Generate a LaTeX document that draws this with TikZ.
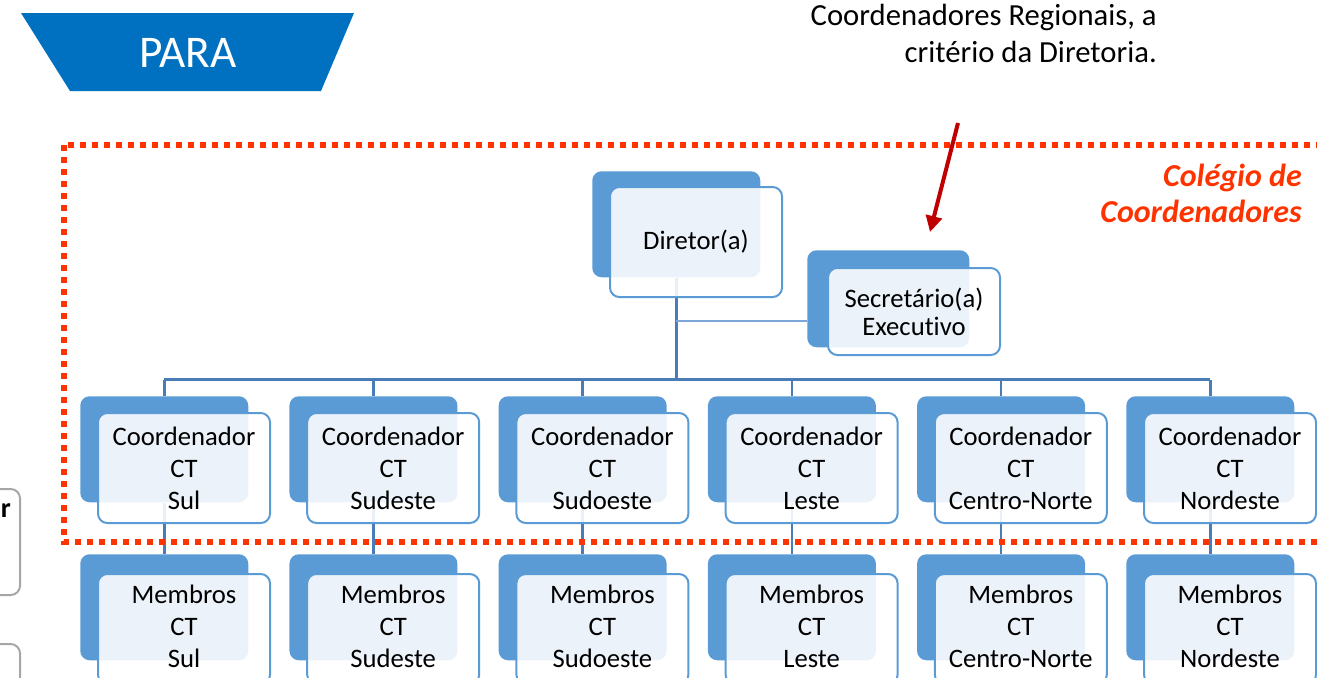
\documentclass[tikz,border=0pt]{standalone}
\usepackage{fontspec}
\setmainfont{Carlito}[Ligatures=NoCommon]
\usetikzlibrary{arrows.meta,calc}
\definecolor{backblue}{HTML}{5B9BD5}
\definecolor{linkblue}{HTML}{4A7DB8}
\definecolor{seclink}{HTML}{7FA6DA}
\definecolor{parablue}{HTML}{0070C0}
\definecolor{dotred}{HTML}{FF3300}
\definecolor{arrowred}{HTML}{C00000}
\definecolor{edgegray}{HTML}{A6A6A6}
\pgfdeclarelayer{bg}
\pgfsetlayers{bg,main}
\begin{document}
\begin{tikzpicture}[x=0.75pt,y=-0.75pt,
  backbox/.style={draw=none, fill=backblue, rounded corners=7pt, anchor=north west, inner sep=0pt, minimum width=126pt, minimum height=79.5pt},
  frontbox/.style={draw=backblue, line width=1.5pt, fill=white, fill opacity=0.88, text opacity=1, rounded corners=7pt, anchor=north west, inner sep=0pt, minimum width=129pt, minimum height=82.5pt, font=\fontsize{20}{24}\selectfont, align=center, text=black},
  link/.style={draw=linkblue, line width=2pt},
  seclinkline/.style={draw=seclink, line width=1.2pt},
  notetext/.style={anchor=base east, inner sep=0pt, font=\fontsize{23}{27}\selectfont, text=black},
  coltext/.style={anchor=base east, inner sep=0pt, font=\bfseries\itshape\fontsize{24}{28}\selectfont, text=dotred},
  dottedframe/.style={draw=dotred, line width=4.5pt, dash pattern=on 4.5pt off 4.5pt},
  edgebox/.style={draw=edgegray, line width=1.5pt, rounded corners=7pt}
]
\clip (0,0) rectangle (1317,678);

% PARA banner
\fill[parablue] (21,13) -- (354,13) -- (321,91) -- (70,91) -- cycle;
\node[text=white, font=\fontsize{34}{40}\selectfont, inner sep=0pt] (para) at (188,52.5) {PARA};

% top note
\node[notetext] (note1) at (1157,25) {Coordenadores Regionais, a};
\node[notetext] (note2) at (1157,62) {critério da Diretoria.};

% left partial boxes
\draw[edgebox] (-60,489) rectangle (20,595);
\node[anchor=base east, inner sep=0pt, font=\bfseries\fontsize{21}{25}\selectfont] (edgetext) at (11,517) {r};
\draw[edgebox] (-60,644) rectangle (20,760);

% dotted frame
\draw[dottedframe] (64,145) rectangle (1340,542);

% Colegio label
\node[coltext] (col1) at (1302,186) {Colégio de};
\node[coltext] (col2) at (1302,222) {Coordenadores};

% Director
\node[backbox] (db) at (592,171) {};
\node[frontbox] (df) at (609,186) {Diretor(a)};

% Secretary
\node[backbox, minimum width=121.5pt, minimum height=72.75pt] (sb) at (807,250) {};
\node[frontbox, minimum width=129pt, minimum height=65.25pt, font=\fontsize{20}{21}\selectfont] (sf) at (827,267) {Secretário(a)\\Executivo};

% coordinators and members
\foreach \i/\reg in {1/Sul,2/Sudeste,3/Sudoeste,4/Leste,5/Centro-Norte,6/Nordeste}{
  \pgfmathsetmacro{\bx}{80+209.2*(\i-1)}
  \node[backbox] (cb\i) at (\bx,396) {};
  \node[frontbox] (cf\i) at (\bx+17,412) {Coordenador\\CT\\\reg};
  \node[backbox] (mb\i) at (\bx,554) {};
  \node[frontbox, text depth=4.5pt] (mf\i) at (\bx+17,573) {Membros\\CT\\\reg};
}

% connectors (behind boxes)
\begin{pgfonlayer}{bg}
  \path (db.south) ++(0,102) coordinate (busmid);
  \draw[link] (db.south) -- (busmid);
  \draw[link] (cb1.north |- busmid) -- (cb6.north |- busmid);
  \foreach \i in {1,...,6}{
    \draw[link] (cb\i.north |- busmid) -- (cb\i.north);
    \draw[link] (cb\i.south) -- (mb\i.north);
  }
  \coordinate (secpt) at ($(sb.north west)!0.73!(sb.south west)$);
  \draw[seclinkline] (db.south |- secpt) -- (secpt);
\end{pgfonlayer}

% red arrow
\coordinate (arrtail) at (958,123);
\coordinate (arrtip) at (930,232);
\draw[draw=arrowred, line width=3pt, -{Triangle[length=12pt,width=12pt]}] (arrtail) -- (arrtip);
\end{tikzpicture}
\end{document}
